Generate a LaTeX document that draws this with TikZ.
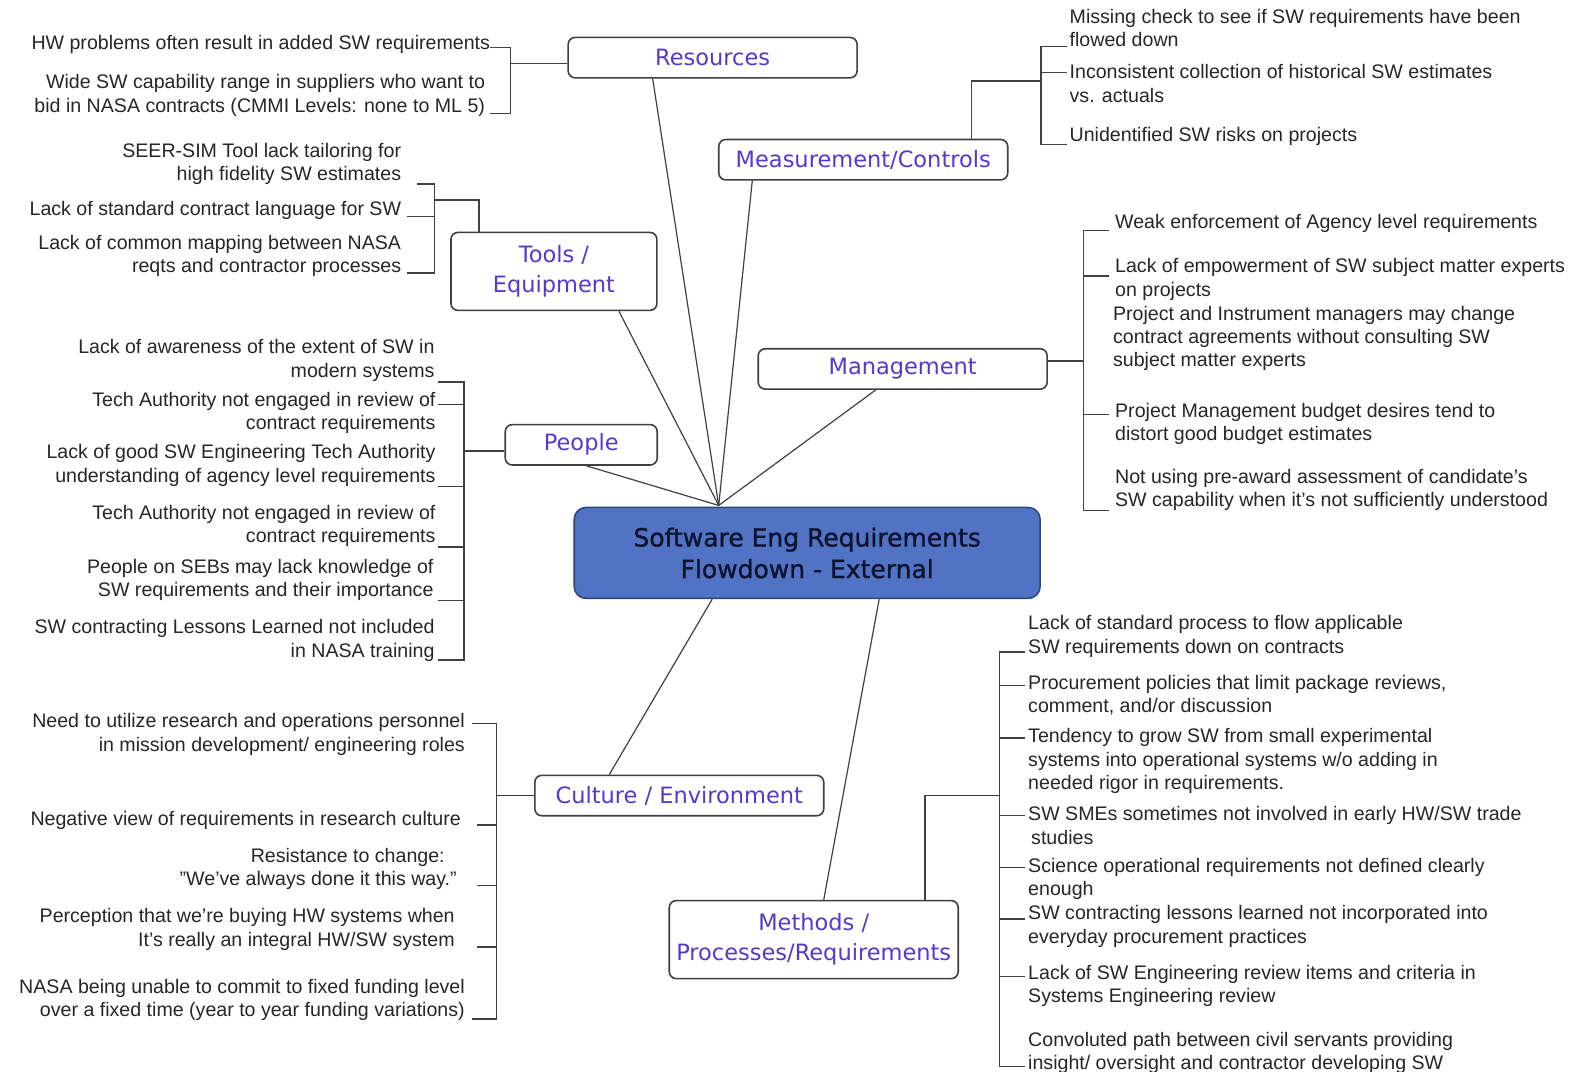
\documentclass[tikz,border=0pt]{standalone}
\usepackage{fontspec}
\setmainfont{Liberation Sans}
\newfontfamily\labfont{DejaVu Sans}
\newfontfamily\ctrfont{DejaVu Sans}[FakeBold=1.2]
\definecolor{labc}{RGB}{88,56,204}
\definecolor{linec}{RGB}{64,64,64}
\definecolor{ctrfill}{RGB}{82,114,196}
\definecolor{ctrdraw}{RGB}{45,70,125}
\definecolor{txtc}{RGB}{38,38,38}
\definecolor{ctrtxt}{RGB}{14,20,48}
\begin{document}
\begin{tikzpicture}[x=1.011pt,y=-1.011pt,
  catbox/.style={draw=linec,line width=1.6pt,rounded corners=7pt,fill=white,
    font=\labfont\fontsize{22.5}{30}\selectfont,text=labc,align=center,inner sep=0pt},
  itemR/.style={font=\fontsize{19.6}{23.3}\selectfont,align=right,anchor=base east,inner sep=0pt,text=txtc},
  itemL/.style={font=\fontsize{19.6}{23.3}\selectfont,align=left,anchor=base west,inner sep=0pt,text=txtc},
  brk/.style={draw=linec,line width=1.4pt},
  spoke/.style={draw=linec,line width=1.2pt}]
\useasboundingbox[fill=white] (0,0) rectangle (1568,1060);

% central node
\node[draw=ctrdraw,line width=1.6pt,fill=ctrfill,rounded corners=12pt,
  minimum width=466pt,minimum height=91pt,inner sep=0pt,align=center,
  font=\ctrfont\fontsize{25}{31.5}\selectfont,text=ctrtxt] (ctr) at (798.5,547)
  {Software Eng Requirements\\Flowdown - External};
\coordinate (hub) at (711,500);

% category boxes
\node[catbox,minimum width=289pt,minimum height=40.4pt] (res) at (705,57) {Resources};
\node[catbox,minimum width=289pt,minimum height=40.4pt] (meas) at (854,158) {Measurement/Controls};
\node[catbox,minimum width=206pt,minimum height=78pt] (tools) at (548,268.5) {Tools /\\Equipment};
\node[catbox,minimum width=289pt,minimum height=40.4pt] (mgmt) at (893,365) {Management};
\node[catbox,minimum width=152pt,minimum height=40.4pt] (ppl) at (575,440) {People};
\node[catbox,minimum width=289pt,minimum height=40.4pt] (cult) at (672,787) {Culture / Environment};
\node[catbox,minimum width=289pt,minimum height=78pt] (meth) at (805,929.5) {Methods /\\Processes/Requirements};

% spokes
\draw[spoke] (hub) -- ([xshift=-60pt]res.south);
\draw[spoke] (hub) -- ([xshift=-111pt]meas.south);
\draw[spoke] (hub) -- ([xshift=65pt]tools.south);
\draw[spoke] (hub) -- ([xshift=5pt]ppl.south);
\draw[spoke] (hub) -- ([xshift=-27pt]mgmt.south);
\draw[spoke] ([xshift=-95pt]ctr.south) -- ([xshift=-70pt]cult.north);
\draw[spoke] ([xshift=72pt]ctr.south) -- ([xshift=10pt]meth.north);

% ---------------- Resources
\node[itemR] (r1) at (485,49) {HW problems often result in added SW requirements};
\node[itemR] (r2) at (480,111) {Wide SW capability range in suppliers who want to\\bid in NASA contracts (CMMI Levels: none to ML 5)};
\coordinate (resj) at (505,63);
\draw[brk] (res.west |- resj) -- (resj);
\draw[brk] (r1.east |- 0,47) -- (505,47) -- (505,112) -- (485,112);

% ---------------- Tools
\node[itemR] (t1) at (397,179) {SEER-SIM Tool lack tailoring for\\high fidelity SW estimates};
\node[itemR] (t2) at (397,213) {Lack of standard contract language for SW};
\node[itemR] (t3) at (397,270) {Lack of common mapping between NASA\\reqts and contractor processes};
\draw[brk] (413,182) -- (430,182) -- (430,270) -- (403,270);
\draw[brk] (403,214) -- (430,214);
\draw[brk] (430,198) -| (tools.north -| 474,0);

% ---------------- Measurement
\node[itemL] (m1) at (1058,46) {Missing check to see if SW requirements have been\\flowed down};
\node[itemL] (m2) at (1058,101) {Inconsistent collection of historical SW estimates\\vs. actuals};
\node[itemL] (m3) at (1058,140) {Unidentified SW risks on projects};
\draw[brk] (1056,46) -- (1030,46) -- (1030,143) -- (1056,143);
\draw[brk] (1030,72) -- (1056,72);
\draw[brk] (meas.north -| 961,0) |- (1030,80);

% ---------------- Management
\node[itemL] (g1) at (1103,226) {Weak enforcement of Agency level requirements};
\node[itemL] (g2) at (1103,293) {Lack of empowerment of SW subject matter experts\\on projects};
\node[itemL] (g3) at (1101,363) {Project and Instrument managers may change\\contract agreements without consulting SW\\subject matter experts};
\node[itemL] (g4) at (1103,436) {Project Management budget desires tend to\\distort good budget estimates};
\node[itemL] (g5) at (1103,501) {Not using pre-award assessment of candidate's\\SW capability when it's not sufficiently understood};
\draw[brk] (1097,228) -- (1072,228) -- (1072,505) -- (1097,505);
\draw[brk] (1072,273) -- (1097,273);
\draw[brk] (1072,410) -- (1097,410);
\draw[brk] (mgmt.east |- 0,357) -- (1072,357);

% ---------------- People
\node[itemR] (p1) at (430,373) {Lack of awareness of the extent of SW in\\modern systems};
\node[itemR] (p2) at (431,425) {Tech Authority not engaged in review of\\contract requirements};
\node[itemR] (p3) at (431,477) {Lack of good SW Engineering Tech Authority\\understanding of agency level requirements};
\node[itemR] (p4) at (431,537) {Tech Authority not engaged in review of\\contract requirements};
\node[itemR] (p5) at (429,590) {People on SEBs may lack knowledge of\\SW requirements and their importance};
\node[itemR] (p6) at (430,650) {SW contracting Lessons Learned not included\\in NASA training};
\draw[brk] (433,378) -- (459,378) -- (459,653) -- (433,653);
\foreach \yy in {400,481,541,594} \draw[brk] (433,\yy) -- (459,\yy);
\draw[brk] (ppl.west |- 0,446) -- (459,446);

% ---------------- Culture
\node[itemR] (c1) at (460,743) {Need to utilize research and operations personnel\\in mission development/ engineering roles};
\node[itemR] (c2) at (456,817) {Negative view of requirements in research culture};
\node[itemR] (c3) at (452,876) {Resistance to change:\hspace*{12pt}\\\symbol{34}We've always done it this way.\symbol{34}};
\node[itemR] (c4) at (450,936) {Perception that we're buying HW systems when\\It's really an integral HW/SW system};
\node[itemR] (c5) at (460,1006) {NASA being unable to commit to fixed funding level\\over a fixed time (year to year funding variations)};
\draw[brk] (467,716) -- (491,716) -- (491,1008) -- (467,1008);
\foreach \yy in {816,876,937} \draw[brk] (472,\yy) -- (491,\yy);
\draw[brk] (cult.west |- 0,787) -- (491,787);

% ---------------- Methods
\node[itemL] (x1) at (1017,646) {Lack of standard process to flow applicable\\SW requirements down on contracts};
\node[itemL] (x2) at (1017,705) {Procurement policies that limit package reviews,\\comment, and/or discussion};
\node[itemL] (x3) at (1017,781) {Tendency to grow SW from small experimental\\systems into operational systems w/o adding in\\needed rigor in requirements.};
\node[itemL] (x4) at (1017,835) {SW SMEs sometimes not involved in early HW/SW trade\\\hspace*{3pt}studies};
\node[itemL] (x5) at (1017,886) {Science operational requirements not defined clearly\\enough};
\node[itemL] (x6) at (1017,933) {SW contracting lessons learned not incorporated into\\everyday procurement practices};
\node[itemL] (x7) at (1017,992) {Lack of SW Engineering review items and criteria in\\Systems Engineering review};
\node[itemL] (x8) at (1017,1058) {Convoluted path between civil servants providing\\insight/ oversight and contractor developing SW};
\draw[brk] (1014,645) -- (989,645) -- (989,1055) -- (1014,1055);
\foreach \yy in {678,730,807,858,909,966} \draw[brk] (989,\yy) -- (1014,\yy);
\draw[brk] (meth.north -| 915,0) |- (989,787);
\end{tikzpicture}
\end{document}
